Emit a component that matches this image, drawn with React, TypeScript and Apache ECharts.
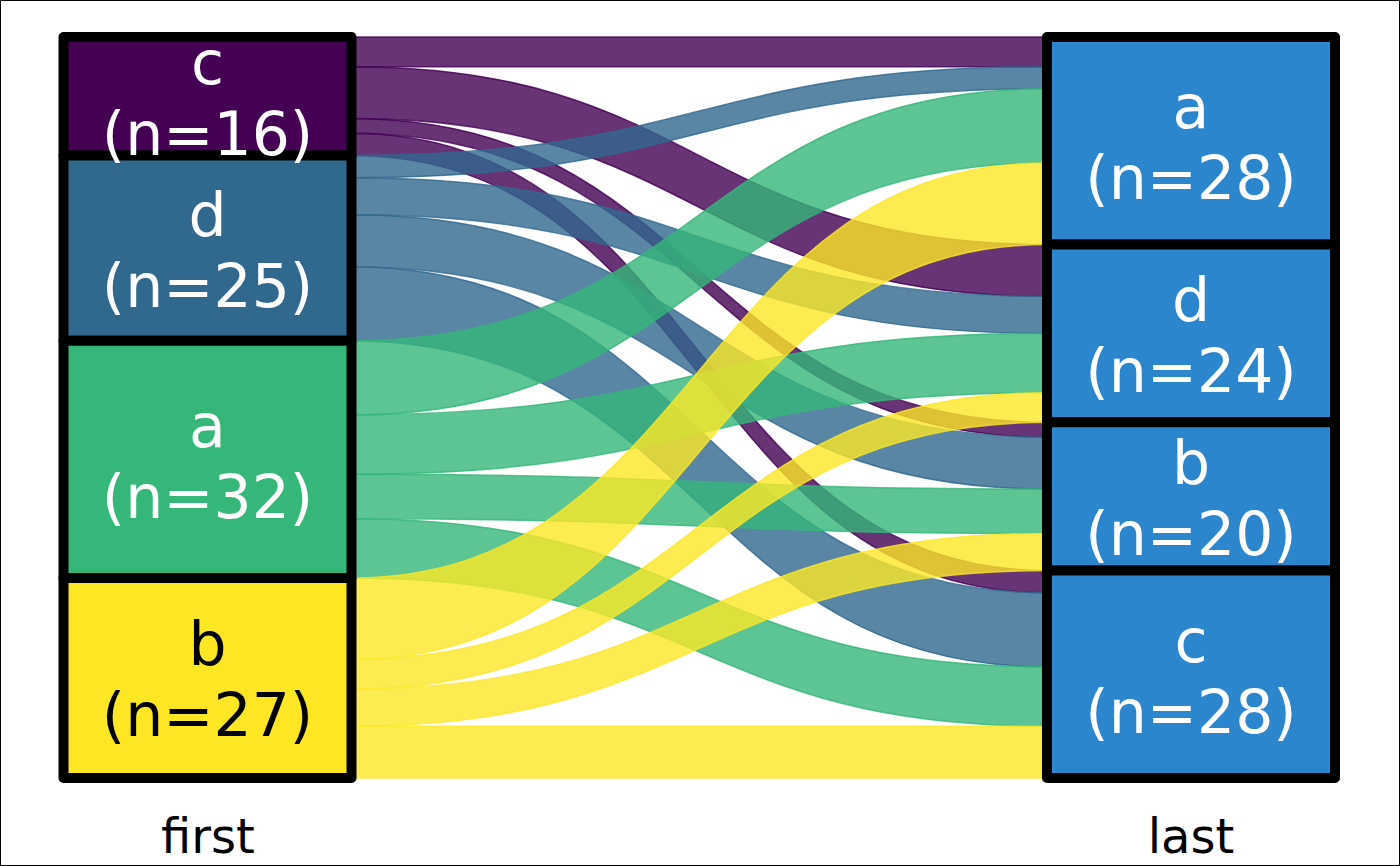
import React, { useEffect, useRef } from "react";
import * as echarts from "echarts";

// Categories of the two axes (top-to-bottom order)
const leftCats = ["c", "d", "a", "b"];
const rightCats = ["a", "d", "b", "c"];
const leftCounts = [16, 25, 32, 27];
const rightCounts = [28, 24, 20, 28];
const axisLabels = ["first", "last"];

// Flow counts: rows = left (c, d, a, b), columns = right (a, d, b, c)
const flowFromC = [4, 7, 2, 3];
const flowFromD = [3, 5, 7, 10];
const flowFromA = [10, 8, 6, 8];
const flowFromB = [11, 4, 5, 7];
const flows = [flowFromC, flowFromD, flowFromA, flowFromB];

const leftColors = ["#440154", "#31688E", "#35B779", "#FDE725"];
const leftLabelColors = ["#ffffff", "#ffffff", "#ffffff", "#000000"];
const rightColor = "#2B86CD";

const FONT = "DejaVu Sans";

export default function App() {
  const ref = useRef<HTMLDivElement>(null);

  useEffect(() => {
    if (!ref.current) return;
    const chart = echarts.init(ref.current, null, { renderer: "svg" });

    const nodes: any[] = [];
    leftCats.forEach((c, i) => {
      nodes.push({
        name: "L_" + c,
        itemStyle: { color: leftColors[i] },
        label: {
          formatter: c + "\n(n=" + leftCounts[i] + ")",
          color: leftLabelColors[i],
        },
      });
    });
    rightCats.forEach((c, j) => {
      nodes.push({
        name: "R_" + c,
        itemStyle: { color: rightColor },
        label: {
          formatter: c + "\n(n=" + rightCounts[j] + ")",
          color: "#ffffff",
        },
      });
    });

    const links: any[] = [];
    flows.forEach((row, i) => {
      row.forEach((v, j) => {
        if (v > 0) {
          links.push({
            source: "L_" + leftCats[i],
            target: "R_" + rightCats[j],
            value: v,
            lineStyle: {
              color: leftColors[i],
              borderColor: leftColors[i],
              borderWidth: 1.5,
            },
          });
        }
      });
    });

    chart.setOption({
      animation: false,
      backgroundColor: "#ffffff",
      series: [
        {
          type: "sankey",
          left: 63.5,
          right: 65,
          top: 37,
          bottom: 88,
          nodeWidth: 288,
          nodeGap: 0,
          layoutIterations: 0,
          draggable: false,
          emphasis: { disabled: true },
          nodeAlign: "justify",
          data: nodes,
          links: links,
          itemStyle: {
            borderColor: "#000000",
            borderWidth: 10,
            borderJoin: "round",
          },
          lineStyle: {
            opacity: 0.8,
            curveness: 0.5,
          },
          label: {
            show: true,
            position: "inside",
            fontFamily: FONT,
            fontSize: 60,
            lineHeight: 71,
            align: "center",
            verticalAlign: "middle",
            offset: [0, 2],
          },
        },
      ],
      graphic: [
        {
          type: "text",
          x: 208,
          y: 836,
          style: {
            text: axisLabels[0],
            font: "48px " + FONT,
            fill: "#000",
            align: "center",
            verticalAlign: "middle",
          },
        },
        {
          type: "text",
          x: 1191,
          y: 836,
          style: {
            text: axisLabels[1],
            font: "48px " + FONT,
            fill: "#000",
            align: "center",
            verticalAlign: "middle",
          },
        },
        {
          type: "rect",
          shape: { x: 0.5, y: 0.5, width: 1399, height: 865 },
          style: { fill: "none", stroke: "#000", lineWidth: 1 },
          silent: true,
        },
      ],
    });

    return () => chart.dispose();
  }, []);

  return (
    <div
      ref={ref}
      style={{ position: "fixed", left: 0, top: 0, width: 1400, height: 866 }}
    />
  );
}
